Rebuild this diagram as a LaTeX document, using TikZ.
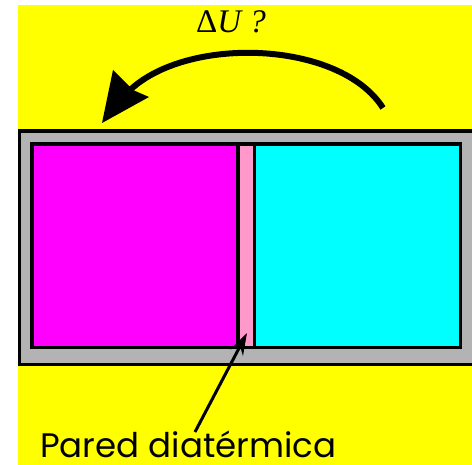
\documentclass[tikz,border=0pt]{standalone}
\usepackage{fontspec}
\newfontfamily\labelfont{Poppins}
\newfontfamily\deltafont{Liberation Serif}
\usetikzlibrary{arrows.meta}
\definecolor{bgyellow}{RGB}{255,255,0}
\definecolor{framegray}{RGB}{179,179,179}
\definecolor{wallpink}{RGB}{255,153,204}
\definecolor{hotside}{RGB}{255,0,255}
\definecolor{coldside}{RGB}{0,255,255}
\tikzset{
  border/.style={draw=black, line width=3.5pt},
  pointer/.style={draw=black, line width=3pt, -{Stealth[length=22pt,width=14pt]}},
}
\begin{document}
\begin{tikzpicture}[x=1pt,y=-1pt]
  \useasboundingbox (0,0) rectangle (472,465);
  % background
  \fill[bgyellow] (18,5) rectangle (472,465);
  \begin{scope}
    \clip (0,0) rectangle (472,465);
    % outer frame
    \filldraw[fill=framegray, border] (19.5,131) rectangle (480,364.5);
  \end{scope}
  % two compartments separated by the wall
  \fill[hotside] (32,144) rectangle (238,347.5);
  \fill[wallpink] (238,144) rectangle (254.5,347.5);
  \fill[coldside] (254.5,144) rectangle (460.5,347.5);
  \draw[border] (32,144) rectangle (460.5,347.5);
  \draw[border] (238,144) -- (238,347.5);
  \draw[border] (254.5,144) -- (254.5,347.5);
  \coordinate (wall) at (247,333);
  % energy transfer arrow
  \draw[line width=6pt] (383,108) .. controls (340,40) and (185,35) .. (128,92);
  \fill (102,123) -- (113,70) -- (133,90) -- (149,97) -- cycle;
  \node[anchor=base west, inner sep=0, font=\deltafont\fontsize{33}{36}\selectfont] (du) at (196,33) {Δ\textit{U ?}};
  % label
  \node[anchor=base west, inner sep=0, font=\labelfont\fontsize{34}{37}\selectfont] (lbl) at (40,457) {Pared diatérmica};
  \coordinate (tail) at (195,432);
  \draw[pointer] (tail) -- (wall);
\end{tikzpicture}
\end{document}
